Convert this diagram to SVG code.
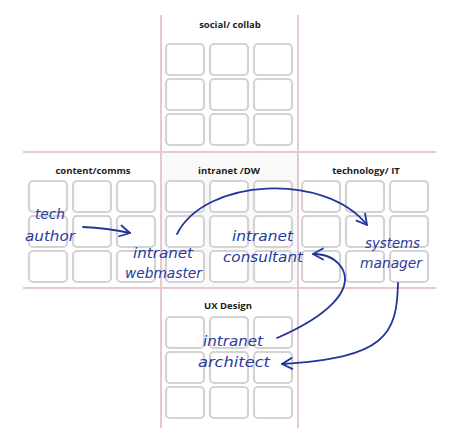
<svg xmlns="http://www.w3.org/2000/svg" width="450" height="443" viewBox="0 0 450 443">
<defs>
<style>
.bg{fill:#ffffff}
.ctr{fill:#f9f9f9}
.rule{stroke:#e6caca;stroke-width:2;fill:none}
.box{fill:#ffffff;stroke:#d3d3d3;stroke-width:2.2}
.title{font-family:"Open Sans","DejaVu Sans",sans-serif;font-weight:bold;font-size:9.5px;fill:#1c1c1c;text-anchor:middle}
.hand{font-family:"DejaVu Sans","Liberation Sans",sans-serif;font-style:italic;font-weight:200;font-size:14px;fill:#2a3a9e}
.arrow{stroke:#24359c;stroke-width:1.8;fill:none;stroke-linecap:round}
</style>
<marker id="ah" markerUnits="userSpaceOnUse" markerWidth="16" markerHeight="14" viewBox="-12 -7 14 14" refX="0" refY="0" orient="auto">
<path d="M-10,-5.5 L0,0 L-10,5.5" fill="none" stroke="#24359c" stroke-width="1.8" stroke-linecap="round" stroke-linejoin="round"/>
</marker>
<g id="grid">
<rect class="box" x="0" y="0" width="38" height="31" rx="4"/>
<rect class="box" x="44" y="0" width="38" height="31" rx="4"/>
<rect class="box" x="88" y="0" width="38" height="31" rx="4"/>
<rect class="box" x="0" y="35" width="38" height="31" rx="4"/>
<rect class="box" x="44" y="35" width="38" height="31" rx="4"/>
<rect class="box" x="88" y="35" width="38" height="31" rx="4"/>
<rect class="box" x="0" y="70" width="38" height="31" rx="4"/>
<rect class="box" x="44" y="70" width="38" height="31" rx="4"/>
<rect class="box" x="88" y="70" width="38" height="31" rx="4"/>
</g>
</defs>
<rect class="bg" x="0" y="0" width="450" height="443"/>
<rect class="ctr" x="161" y="152" width="137" height="136"/>
<g id="rules">
<line class="rule" x1="161" y1="15" x2="161" y2="428"/>
<line class="rule" x1="298" y1="15" x2="298" y2="428"/>
<line class="rule" x1="23" y1="152" x2="436" y2="152"/>
<line class="rule" x1="23" y1="288" x2="436" y2="288"/>
</g>
<g id="social">
<text class="title" x="230" y="28">social/ collab</text>
<use href="#grid" x="166" y="44"/>
</g>
<g id="content">
<text class="title" x="93" y="173.5">content/comms</text>
<use href="#grid" x="29" y="181"/>
</g>
<g id="intranet">
<text class="title" x="229" y="173.5">intranet /DW</text>
<use href="#grid" x="166" y="181"/>
</g>
<g id="technology">
<text class="title" x="366" y="173.5">technology/ IT</text>
<use href="#grid" x="302" y="181"/>
</g>
<g id="ux">
<text class="title" x="228" y="308.5">UX Design</text>
<use href="#grid" x="166" y="317"/>
</g>
<g id="tech-author">
<text class="hand" x="35" y="219" textLength="30" lengthAdjust="spacingAndGlyphs">tech</text>
<text class="hand" x="25" y="241" textLength="50" lengthAdjust="spacingAndGlyphs">author</text>
</g>
<g id="intranet-webmaster">
<text class="hand" x="133" y="258" textLength="60" lengthAdjust="spacingAndGlyphs">intranet</text>
<text class="hand" x="125" y="278" textLength="77" lengthAdjust="spacingAndGlyphs">webmaster</text>
</g>
<g id="intranet-consultant">
<text class="hand" x="232" y="241" textLength="61" lengthAdjust="spacingAndGlyphs">intranet</text>
<text class="hand" x="223" y="262" textLength="80" lengthAdjust="spacingAndGlyphs">consultant</text>
</g>
<g id="systems-manager">
<text class="hand" x="365" y="248" textLength="55" lengthAdjust="spacingAndGlyphs">systems</text>
<text class="hand" x="360" y="268" textLength="62" lengthAdjust="spacingAndGlyphs">manager</text>
</g>
<g id="intranet-architect">
<text class="hand" x="203" y="346" textLength="60" lengthAdjust="spacingAndGlyphs">intranet</text>
<text class="hand" x="198" y="367" textLength="72" lengthAdjust="spacingAndGlyphs">architect</text>
</g>
<g id="connectors">
<path class="arrow" d="M83,227 Q107,228 130,233" marker-end="url(#ah)"/>
<path class="arrow" d="M177,234 C205,178 325,172 367,225" marker-end="url(#ah)"/>
<path class="arrow" d="M277,338 C330,315 352,290 343,270 C336,257 324,254 313,254" marker-end="url(#ah)"/>
<path class="arrow" d="M398,283 C397,335 385,358 282,364" marker-end="url(#ah)"/>
</g>
</svg>
